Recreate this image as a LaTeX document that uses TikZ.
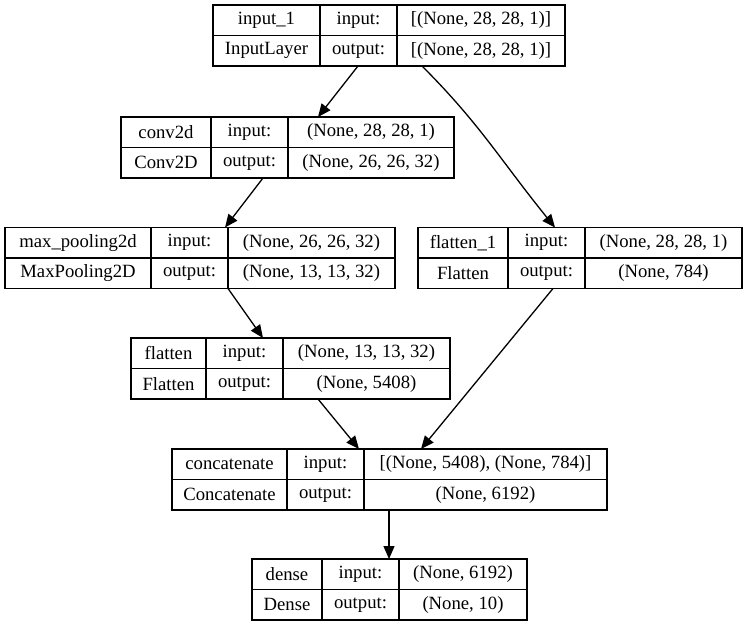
\documentclass[tikz,border=0pt]{standalone}
\usepackage{fontspec}
\setmainfont{Liberation Serif}
\usetikzlibrary{arrows.meta}
\begin{document}
\begin{tikzpicture}[x=1pt,y=-1pt,
  cell/.style={draw, line width=1.3pt, inner sep=0pt, outer sep=0pt,
    minimum height=30.5pt, anchor=north west,
    font=\fontsize{18.7}{22}\selectfont},
  edge/.style={line width=1.3pt, -{Triangle[length=13pt,width=11pt]}}]
\useasboundingbox (0,0) rectangle (747,627);
\newcommand\cellat[5]{\node[cell, minimum width={(#3)-(#2)}] (#1) at (#2,#4) {#5};}
% layer box: name, x0, x1, x2, x3, ytop, label, class
\newcommand\lay[8]{%
  \cellat{#1-a}{#2}{#3}{#6}{#7}
  \cellat{#1-b}{#3}{#4}{#6}{input:}
  \cellat{#1-d}{#2}{#3}{#6+30.5}{#8}
  \cellat{#1-e}{#3}{#4}{#6+30.5}{output:}
}
% shapes: name, x2, x3, ytop, in, out
\newcommand\shp[6]{%
  \cellat{#1-c}{#2}{#3}{#4}{#5}
  \cellat{#1-f}{#2}{#3}{#4+30.5}{#6}
}
\lay{in1}{213}{320}{397}{565}{5}{input\_1}{InputLayer}
\shp{in1}{397}{565}{5}{[(None, 28, 28, 1)]}{[(None, 28, 28, 1)]}
\lay{conv}{121}{211}{288}{454}{117}{conv2d}{Conv2D}
\shp{conv}{288}{454}{117}{(None, 28, 28, 1)}{(None, 26, 26, 32)}
\lay{mp}{5}{151}{228}{395}{227.5}{max\_pooling2d}{MaxPooling2D}
\shp{mp}{228}{395}{227.5}{(None, 26, 26, 32)}{(None, 13, 13, 32)}
\lay{flone}{418}{508}{585}{742}{227.5}{flatten\_1}{Flatten}
\shp{flone}{585}{742}{227.5}{(None, 28, 28, 1)}{(None, 784)}
\lay{fl}{131}{206}{283}{450}{338}{flatten}{Flatten}
\shp{fl}{283}{450}{338}{(None, 13, 13, 32)}{(None, 5408)}
\lay{cat}{172}{287}{364}{607}{449}{concatenate}{Concatenate}
\shp{cat}{364}{607}{449}{[(None, 5408), (None, 784)]}{(None, 6192)}
\lay{dense}{252}{322}{399}{527}{559}{dense}{Dense}
\shp{dense}{399}{527}{559}{(None, 6192)}{(None, 10)}
% connectors
\draw[edge] ([xshift=38pt]in1-e.south west) -- ([xshift=30pt]conv-c.north west);
\draw[edge] ([xshift=25pt]in1-f.south west) .. controls +(58,58) and +(-55,-68) .. ([xshift=-30pt]flone-c.north west);
\draw[edge] ([xshift=52pt]conv-e.south west) -- ([xshift=-3pt]mp-c.north west);
\draw[edge] (mp-f.south west) -- ([xshift=57pt]fl-b.north west);
\draw[edge] ([xshift=-32pt]flone-f.south west) -- ([xshift=57pt]cat-c.north west);
\draw[edge] ([xshift=35pt]fl-f.south west) -- ([xshift=72pt]cat-b.north west);
\draw[edge] ([xshift=25pt]cat-f.south west) -- ([xshift=-10pt]dense-c.north west);
\end{tikzpicture}
\end{document}
